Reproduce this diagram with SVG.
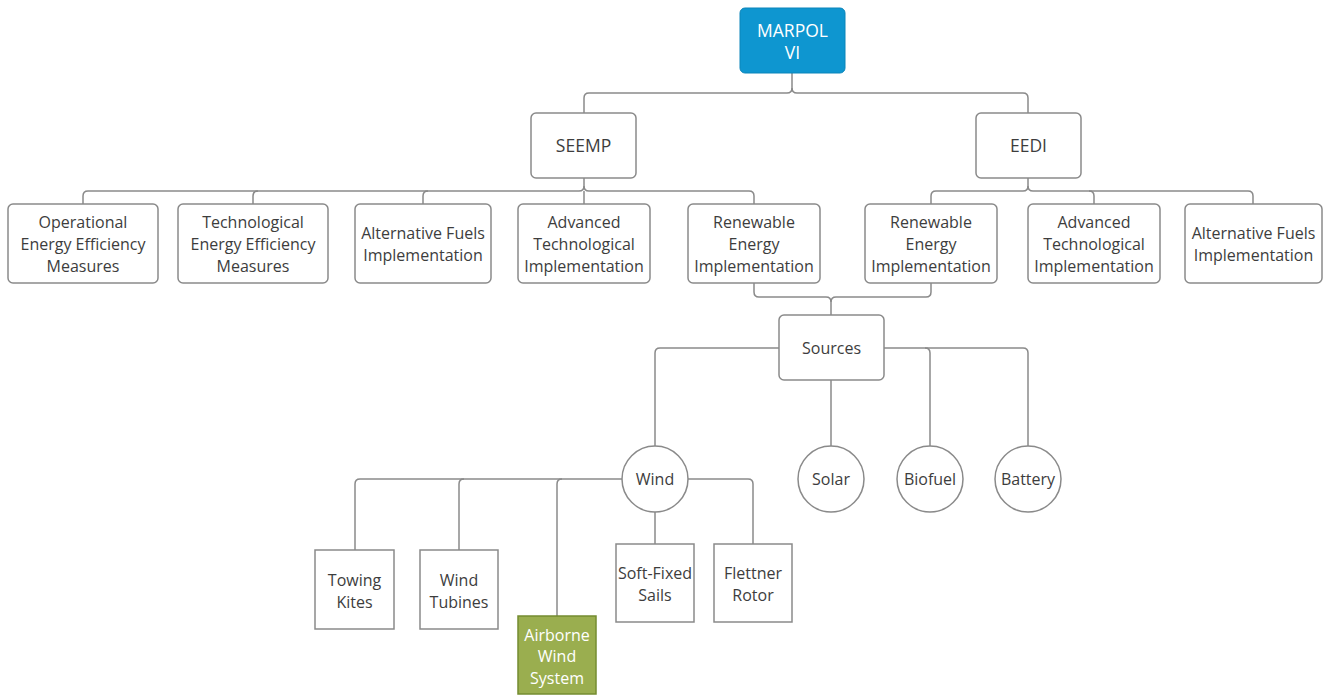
<svg xmlns="http://www.w3.org/2000/svg" width="1335" height="697" viewBox="0 0 1335 697">
<style>
.box{fill:#fff;stroke:#8a8a8a;stroke-width:1.5}
.sq{fill:#fff;stroke:#8a8a8a;stroke-width:1.5}
.t{font-family:"Open Sans","Noto Sans","Liberation Sans",sans-serif;font-size:16px;fill:#3d3d3d;text-anchor:middle}
.big{font-size:17.5px}
.w{fill:#fff}
.c{fill:none;stroke:#8a8a8a;stroke-width:1.5}
</style>
<rect width="1335" height="697" fill="#fff"/>
<g id="connectors" class="c">
<path d="M792 73 V88 Q792 93 787 93 H589 Q584 93 584 98 V113"/>
<path d="M792 88 Q792 93 797 93 H1023 Q1028 93 1028 98 V113"/>
<path d="M584 178 V186 Q584 191 579 191 H88 Q83 191 83 196 V204"/>
<path d="M584 186 Q584 191 589 191 H749 Q754 191 754 196 V204"/>
<path d="M584 191 V204"/>
<path d="M258 191 Q253 191 253 196 V204"/>
<path d="M428 191 Q423 191 423 196 V204"/>
<path d="M1028 178 V186 Q1028 191 1023 191 H936 Q931 191 931 196 V204"/>
<path d="M1028 186 Q1028 191 1033 191 H1248 Q1253 191 1253 196 V204"/>
<path d="M1089 191 Q1094 191 1094 196 V204"/>
<path d="M754 283 V292 Q754 297 759 297 H826 Q831 297 831 302 V315"/>
<path d="M931 283 V292 Q931 297 926 297 H836 Q831 297 831 302"/>
<path d="M779 348 H660 Q655 348 655 353 V446"/>
<path d="M884 348 H1023 Q1028 348 1028 353 V446"/>
<path d="M925 348 Q930 348 930 353 V446"/>
<path d="M831 380 V446"/>
<path d="M622 479 H360 Q355 479 355 484 V550"/>
<path d="M464 479 Q459 479 459 484 V550"/>
<path d="M562 479 Q557 479 557 484 V616"/>
<path d="M688 479 H748 Q753 479 753 484 V544"/>
<path d="M655 512 V544"/>
</g>
<g id="marpol">
<rect x="740" y="8" width="105" height="65" rx="5" fill="#0e96d0" stroke="#0b85ba" stroke-width="1"/>
<text class="t big w" x="792.5" y="36.5">MARPOL</text>
<text class="t big w" x="792.5" y="59">VI</text>
</g>
<g id="seemp"><rect class="box" x="531" y="113" width="105" height="65" rx="5"/><text class="t big" x="583.5" y="151.5">SEEMP</text></g>
<g id="eedi"><rect class="box" x="976" y="113" width="105" height="65" rx="5"/><text class="t big" x="1028.5" y="151.5">EEDI</text></g>
<g id="op"><rect class="box" x="8" y="204" width="150" height="79" rx="5"/><text class="t" x="83" y="228">Operational</text><text class="t" x="83" y="250">Energy Efficiency</text><text class="t" x="83" y="272">Measures</text></g>
<g id="tech"><rect class="box" x="178" y="204" width="150" height="79" rx="5"/><text class="t" x="253" y="228">Technological</text><text class="t" x="253" y="250">Energy Efficiency</text><text class="t" x="253" y="272">Measures</text></g>
<g id="alt1"><rect class="box" x="355" y="204" width="136" height="79" rx="5"/><text class="t" x="423" y="239">Alternative Fuels</text><text class="t" x="423" y="261">Implementation</text></g>
<g id="adv1"><rect class="box" x="518" y="204" width="132" height="79" rx="5"/><text class="t" x="584" y="228">Advanced</text><text class="t" x="584" y="250">Technological</text><text class="t" x="584" y="272">Implementation</text></g>
<g id="ren1"><rect class="box" x="688" y="204" width="132" height="79" rx="5"/><text class="t" x="754" y="228">Renewable</text><text class="t" x="754" y="250">Energy</text><text class="t" x="754" y="272">Implementation</text></g>
<g id="ren2"><rect class="box" x="865" y="204" width="132" height="79" rx="5"/><text class="t" x="931" y="228">Renewable</text><text class="t" x="931" y="250">Energy</text><text class="t" x="931" y="272">Implementation</text></g>
<g id="adv2"><rect class="box" x="1028" y="204" width="132" height="79" rx="5"/><text class="t" x="1094" y="228">Advanced</text><text class="t" x="1094" y="250">Technological</text><text class="t" x="1094" y="272">Implementation</text></g>
<g id="alt2"><rect class="box" x="1185" y="204" width="137" height="79" rx="5"/><text class="t" x="1253.5" y="239">Alternative Fuels</text><text class="t" x="1253.5" y="261">Implementation</text></g>
<g id="sources"><rect class="box" x="779" y="315" width="105" height="65" rx="5"/><text class="t" x="831.5" y="354">Sources</text></g>
<g id="wind"><circle class="box" cx="655" cy="479" r="33"/><text class="t" x="655" y="485">Wind</text></g>
<g id="solar"><circle class="box" cx="831" cy="479" r="33"/><text class="t" x="831" y="485">Solar</text></g>
<g id="biofuel"><circle class="box" cx="930" cy="479" r="33"/><text class="t" x="930" y="485">Biofuel</text></g>
<g id="battery"><circle class="box" cx="1028" cy="479" r="33"/><text class="t" x="1028" y="485">Battery</text></g>
<g id="towing"><rect class="sq" x="315" y="550" width="79" height="79"/><text class="t" x="354.5" y="586">Towing</text><text class="t" x="354.5" y="608">Kites</text></g>
<g id="tubines"><rect class="sq" x="420" y="550" width="78" height="79"/><text class="t" x="459" y="586">Wind</text><text class="t" x="459" y="608">Tubines</text></g>
<g id="airborne"><rect x="518" y="616" width="78" height="78" fill="#9aae4f" stroke="#748c30" stroke-width="1.5"/><text class="t w" x="557" y="641">Airborne</text><text class="t w" x="557" y="662">Wind</text><text class="t w" x="557" y="684">System</text></g>
<g id="softfixed"><rect class="sq" x="616" y="544" width="78" height="78"/><text class="t" x="655" y="579">Soft-Fixed</text><text class="t" x="655" y="601">Sails</text></g>
<g id="flettner"><rect class="sq" x="714" y="544" width="78" height="78"/><text class="t" x="753" y="579">Flettner</text><text class="t" x="753" y="601">Rotor</text></g>
</svg>
